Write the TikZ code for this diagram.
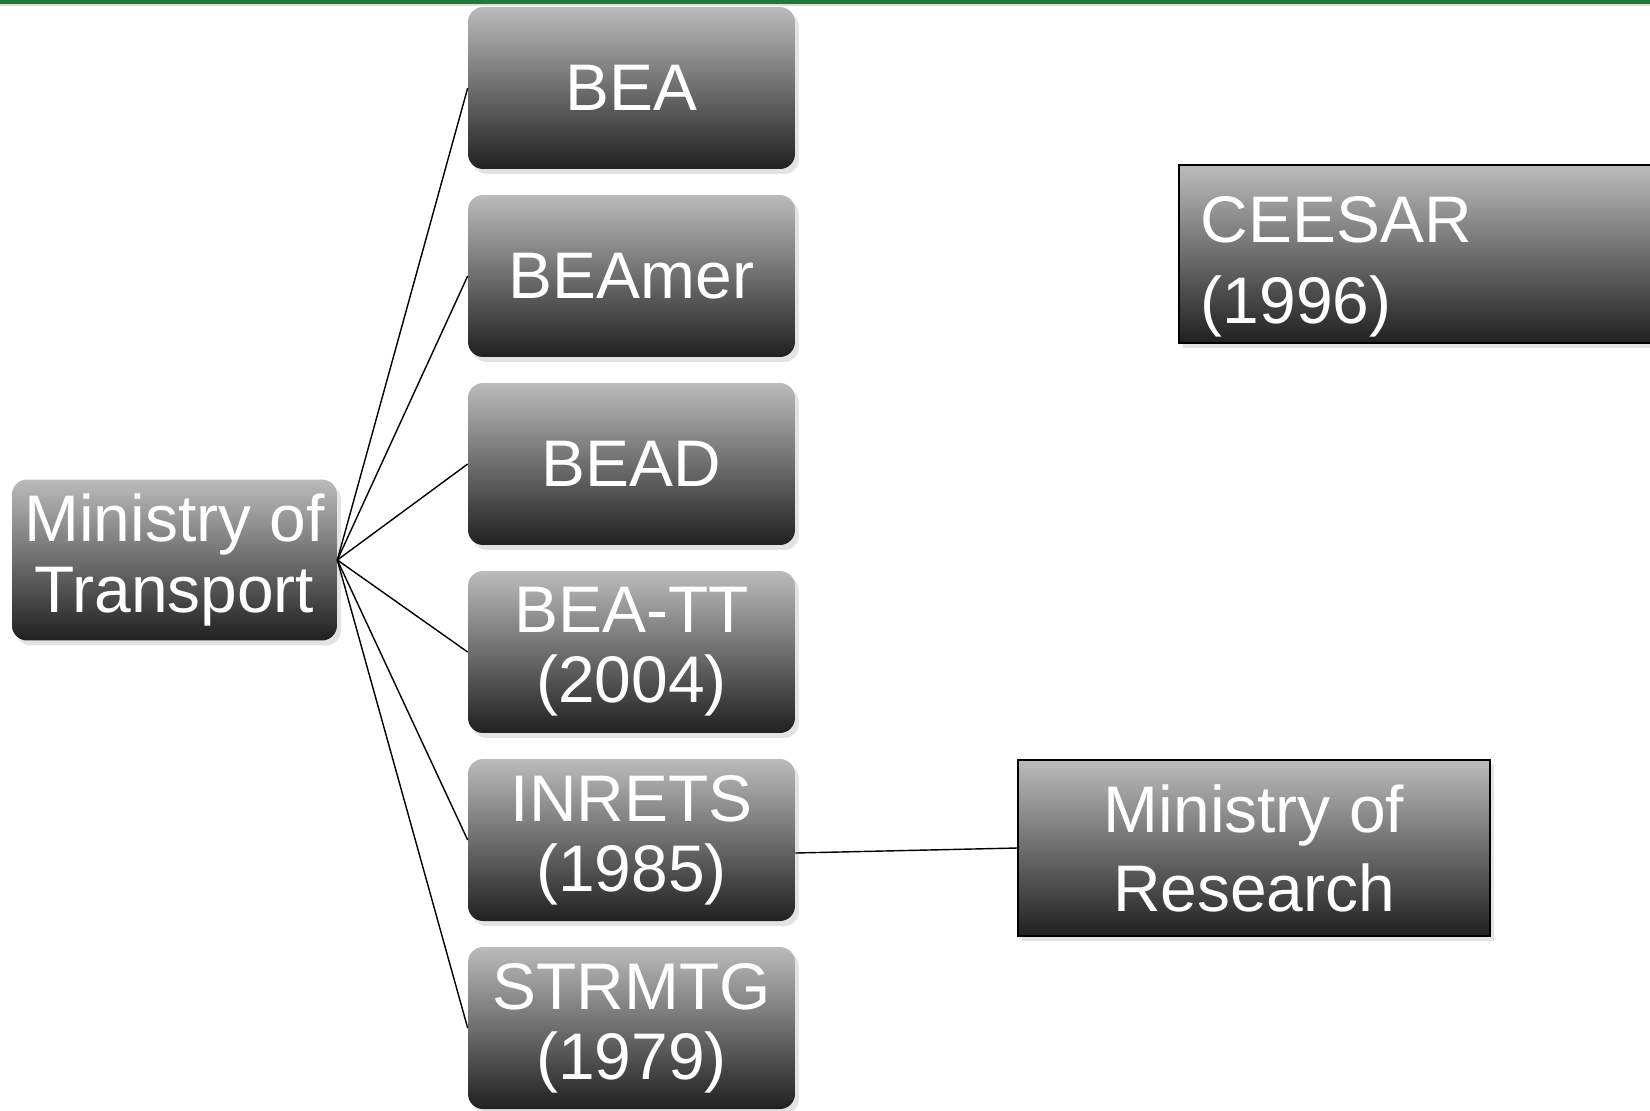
\documentclass[tikz,border=0pt]{standalone}
\usepackage{fontspec}
\setmainfont{Liberation Sans}
\usetikzlibrary{shadows}
\definecolor{topgreen}{RGB}{31,122,56}
\definecolor{boxtop}{RGB}{187,187,187}
\definecolor{boxmid}{RGB}{128,128,128}
\definecolor{boxbot}{RGB}{32,32,32}

\begin{document}
\begin{tikzpicture}[x=0.02cm, y=-0.02cm,
        box/.style={rounded corners=0.3cm, top color=boxtop, middle color=boxmid,
            bottom color=boxbot, text=white, align=center,
            minimum width=6.54cm, minimum height=3.24cm, inner sep=0pt,
            font=\fontsize{37.5}{40}\selectfont,
            drop shadow={opacity=0.22, shadow xshift=0.08cm, shadow yshift=-0.1cm}},
        flatbox/.style={box, rounded corners=0pt, draw=black, line width=1pt,
            font=\fontsize{37.5}{45}\selectfont},
        link/.style={line width=0.8pt}]
        \useasboundingbox (0, 0) rectangle (1650, 1110);
        \fill [topgreen] (0, 0) rectangle (1650, 4);
        \fill [topgreen!20] (0, 4) rectangle (1650, 6);
        \node (mot) at (174.5, 560) [box, minimum width=6.5cm, minimum height=3.22cm] {Ministry of\\Transport};
        \node (bea) at (631.5, 88) [box] {BEA};
        \node (beamer) at (631.5, 276) [box] {BEAmer};
        \node (bead) at (631.5, 464) [box] {BEAD};
        \node (beatt) at (631.5, 652) [box] {BEA-TT\\(2004)};
        \node (inrets) at (631.5, 840) [box] {INRETS\\(1985)};
        \node (strmtg) at (631.5, 1028) [box] {STRMTG\\(1979)};
        \node (ceesar) at (1178, 254) [flatbox, anchor=west, minimum height=3.56cm,
            text width=9.12cm, align=left, inner xsep=0.44cm,
            font=\fontsize{37.5}{46}\selectfont] {\rule{0pt}{1.42cm}CEESAR\\(1996)};
        \node (mor) at (1254, 848) [flatbox, minimum width=9.44cm, minimum height=3.52cm] {Ministry of\\Research};
        \draw [link] (mot.east) -- (bea.west);
        \draw [link] (mot.east) -- (beamer.west);
        \draw [link] (mot.east) -- (bead.west);
        \draw [link] (mot.east) -- (beatt.west);
        \draw [link] (mot.east) -- (inrets.west);
        \draw [link] (mot.east) -- (strmtg.west);
        \draw [link] ([yshift=-0.26cm]inrets.east) -- (mor.west);
    \end{tikzpicture}
\end{document}
